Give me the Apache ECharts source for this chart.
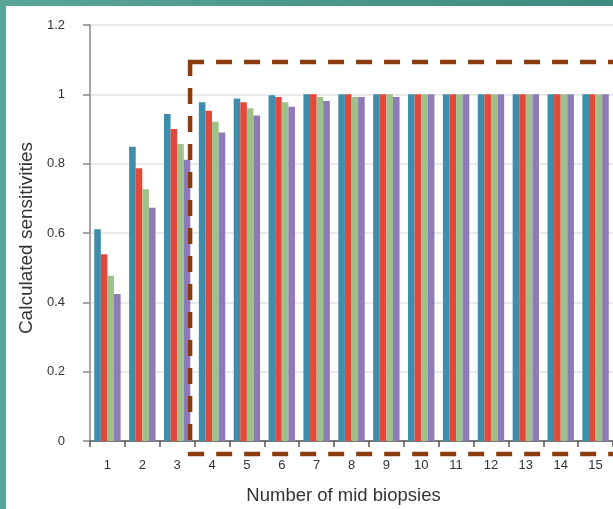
<!DOCTYPE html>
<html>
<head>
<meta charset="utf-8">
<script src="https://cdn.jsdelivr.net/npm/echarts@6/dist/echarts.min.js"></script>
<style>
html,body{margin:0;padding:0;background:#fff;overflow:hidden;}
#wrap{position:absolute;left:0;top:0;width:613px;height:509px;background:linear-gradient(90deg,#58a697,#3f8a80);}
#chart{position:absolute;left:6px;top:6px;width:607px;height:503px;background:#fff;}
</style>
</head>
<body>
<div id="wrap"><div id="chart"></div></div>
<script>
const categories = ['1','2','3','4','5','6','7','8','9','10','11','12','13','14','15'];
const seriesA = [0.611,0.849,0.943,0.977,0.988,0.997,1.0,1.0,1.0,1.0,1.0,1.0,1.0,1.0,1.0];
const seriesB = [0.539,0.787,0.900,0.953,0.977,0.992,1.0,1.0,1.0,1.0,1.0,1.0,1.0,1.0,1.0];
const seriesC = [0.477,0.726,0.857,0.921,0.960,0.977,0.992,0.992,1.0,1.0,1.0,1.0,1.0,1.0,1.0];
const seriesD = [0.424,0.673,0.811,0.890,0.939,0.964,0.981,0.992,0.992,1.0,1.0,1.0,1.0,1.0,1.0];
const yTicks = [0, 0.2, 0.4, 0.6, 0.8, 1, 1.2];
const colors = ['#3e8dab','#e2493b','#9ec18b','#8d7ab6'];
// annotation box (highlight region): starts inside category 3, top near 1.1
const boxStartIndex = 2.37;
const boxTopValue = 1.093;

const chart = echarts.init(document.getElementById('chart'));
const font = 'Liberation Sans, Arial, Helvetica, sans-serif';
function bar(data, i){
  return {type:'bar', data:data, barWidth:6.6, barGap:'0%',
    itemStyle:{color:colors[i]}, animation:false};
}
chart.setOption({
  animation:false,
  grid:{left:84, right:0, top:19, bottom:68, containLabel:false, outerBoundsMode:'none'},
  xAxis:{type:'category', data:categories,
    name:'Number of mid biopsies', nameLocation:'middle', nameGap:45,
    nameTextStyle:{fontSize:18.5, color:'#333', fontFamily:font, padding:[0,16,0,0]},
    axisLine:{lineStyle:{color:'#555', width:1.5}},
    axisTick:{show:true, length:6, lineStyle:{color:'#555', width:1.5}, alignWithLabel:false},
    axisLabel:{fontSize:13, color:'#333', fontFamily:font, margin:18}
  },
  yAxis:{type:'value', min:0, max:1.2, interval:0.2,
    name:'Calculated sensitivities', nameLocation:'middle', nameGap:51,
    nameTextStyle:{fontSize:19, color:'#333', fontFamily:font, padding:[0,10,0,0]},
    axisLine:{show:true, lineStyle:{color:'#888', width:1.5}},
    axisTick:{show:true, length:7, lineStyle:{color:'#888', width:1.5}},
    axisLabel:{fontSize:13, color:'#333', fontFamily:font, margin:25,
      formatter:function(v){ const t = yTicks.find(x=>Math.abs(x-v)<1e-9); return t===undefined? '' : String(+t.toFixed(1)); }},
    splitLine:{show:true, lineStyle:{color:'#e3e3e3', width:1.5}}
  },
  series:[bar(seriesA,0), bar(seriesB,1), bar(seriesC,2), bar(seriesD,3)]
});

// dashed highlight box positioned from data coordinates
const c0 = chart.convertToPixel({xAxisIndex:0}, Math.floor(boxStartIndex));
const c1 = chart.convertToPixel({xAxisIndex:0}, Math.floor(boxStartIndex)+1);
const boxLeft = c0 + (c1-c0)*(boxStartIndex-Math.floor(boxStartIndex));
const boxTop = chart.convertToPixel({yAxisIndex:0}, boxTopValue);
const base = chart.convertToPixel({yAxisIndex:0}, 0);
const boxBottom = base + 13;
const dashStyle = {stroke:'#8a3c10', lineWidth:4.5, fill:null, lineDash:[16,12], lineCap:'butt'};
chart.setOption({
  graphic:[
    {type:'polyline', silent:true, z:100,
      shape:{points:[[boxLeft-2,boxTop],[640,boxTop]]}, style:dashStyle},
    {type:'polyline', silent:true, z:100,
      shape:{points:[[boxLeft,boxTop-2],[boxLeft,boxBottom],[640,boxBottom]]}, style:dashStyle}
  ]
});
</script>
</body>
</html>
